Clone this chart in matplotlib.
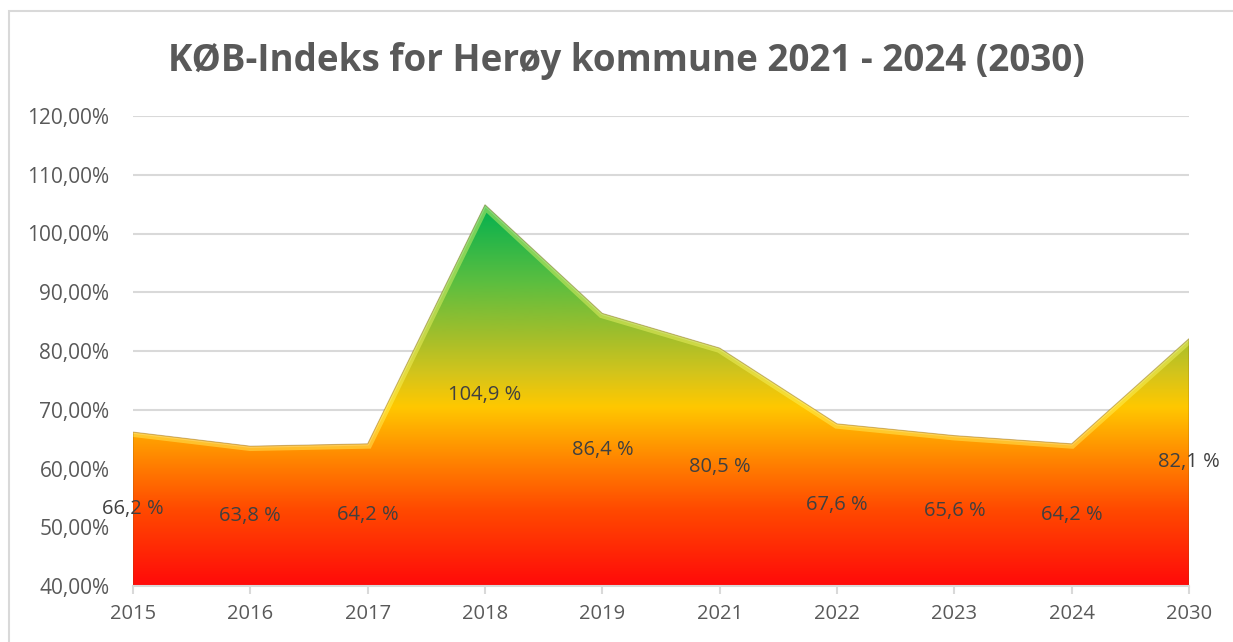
import matplotlib
matplotlib.use("Agg")
import matplotlib.pyplot as plt
import numpy as np
from matplotlib.colors import LinearSegmentedColormap
from matplotlib.patches import Polygon, Rectangle

years = ["2015", "2016", "2017", "2018", "2019", "2021", "2022", "2023", "2024", "2030"]
values = [66.2, 63.8, 64.2, 104.9, 86.4, 80.5, 67.6, 65.6, 64.2, 82.1]
labels = ["66,2 %", "63,8 %", "64,2 %", "104,9 %", "86,4 %", "80,5 %", "67,6 %", "65,6 %", "64,2 %", "82,1 %"]
yticks = [40, 50, 60, 70, 80, 90, 100, 110, 120]
title = "KØB-Indeks for Herøy kommune 2021 - 2024 (2030)"

FONT = "Open Sans"
GRAY = "#595959"

fig = plt.figure(figsize=(12.33, 6.42), dpi=100)
# outer chart border
fig.patches.append(Rectangle((9 / 1233, -0.1), 1.2, (1 - 11 / 642) + 0.1,
                             transform=fig.transFigure, fill=False,
                             edgecolor="#D9D9D9", lw=1.5))

ax = fig.add_axes([133 / 1233, 1 - 586 / 642, (1189 - 133) / 1233, (586 - 116) / 642])
x = np.arange(len(values))
ax.set_xlim(0, len(values) - 1)
ax.set_ylim(40, 120)

# gradient fill
stops = [(0.0, "#FF0A0A"), (0.2, "#FF4A00"), (0.32, "#FF8000"),
         (0.42, "#FFB000"), (0.47, "#FFC800"), (0.56, "#D2C41C"),
         (0.66, "#A0BE2C"), (0.8, "#5ABE40"), (1.0, "#00B050")]
cmap = LinearSegmentedColormap.from_list("kob", stops)
ymin, ymax = 40, max(values)
grad = np.linspace(0, 1, 512).reshape(-1, 1)
im = ax.imshow(grad, aspect="auto", cmap=cmap, origin="lower",
               extent=[0, len(values) - 1, ymin, ymax], zorder=2)
poly_pts = [(0, 40)] + list(zip(x, values)) + [(len(values) - 1, 40)]
poly = Polygon(poly_pts, closed=True, facecolor="none", edgecolor="none",
               transform=ax.transData)
ax.add_patch(poly)
im.set_clip_path(poly)

# bevel highlight along top edge
hl, = ax.plot(x, values, color="#FFFF70", lw=7, alpha=0.4, zorder=3,
              solid_joinstyle="miter")
hl.set_clip_path(poly)
hl2, = ax.plot(x, values, color="white", lw=2.5, alpha=0.2, zorder=3)
hl2.set_clip_path(poly)
edge = Polygon(poly_pts, closed=True, facecolor="none", edgecolor="#7a5000",
               lw=0.8, alpha=0.35, zorder=3)
ax.add_patch(edge)

# data labels
for xi, v, lab in zip(x, values, labels):
    ax.text(xi, (v + 40) / 2, lab, ha="center", va="center", fontsize=14.5,
            color="#404040", family=FONT, zorder=5)

# grid & axes
ax.set_yticks(yticks)
ax.set_yticklabels([f"{t:.2f}%".replace(".", ",") for t in yticks],
                   fontsize=15, color=GRAY, family=FONT)
ax.yaxis.grid(True, color="#D9D9D9", lw=1.5, zorder=0)
ax.set_axisbelow(True)
ax.tick_params(axis="y", length=0, pad=17)
ax.set_xticks(x)
ax.set_xticklabels(years, fontsize=14.5, color=GRAY, family=FONT)
ax.tick_params(axis="x", length=6, width=1.5, color="#D9D9D9", pad=7)
for s in ["top", "right", "left"]:
    ax.spines[s].set_visible(False)
ax.spines["bottom"].set_color("#D9D9D9")
ax.spines["bottom"].set_linewidth(1.5)
ax.spines["bottom"].set_zorder(4)

fig.text(626 / 1233, 1 - 61 / 642, title, ha="center", va="center",
         fontsize=26.5, fontweight="bold", color=GRAY, family=FONT)

fig.savefig("out.png", dpi=100)
